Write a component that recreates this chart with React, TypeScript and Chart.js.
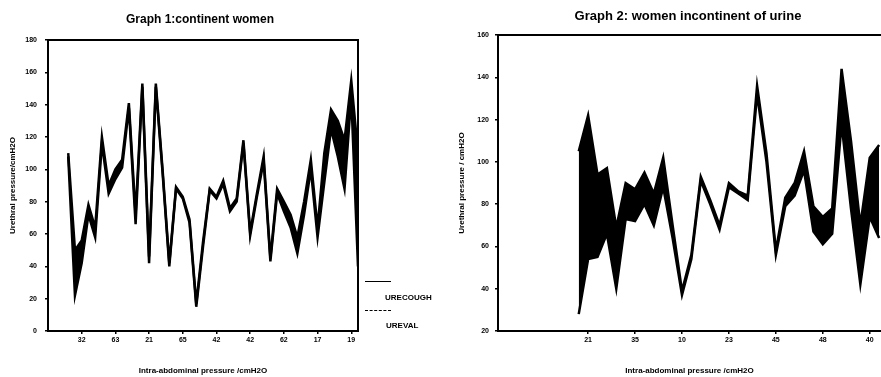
import React, { useEffect, useRef } from 'react';
import { Chart, registerables } from 'chart.js';

Chart.register(...registerables);

const FONT = '"Liberation Sans", Arial, Helvetica, sans-serif';

// ---------- Graph 1: continent women ----------
const g1TickPositions = [5, 10, 15, 20, 25, 30, 35, 40, 45];
const g1TickLabels = ['32', '63', '21', '65', '42', '42', '62', '17', '19'];
const g1UreCough: (number | null)[] = [
  null, null, null, 110, 50, 56, 78, 64, 120, 90,
  100, 106, 141, 72, 153, 46, 153, 100, 42, 89,
  83, 69, 17, 55, 88, 83, 93, 76, 82, 118,
  61, 85, 108, 45, 88, 80, 72, 58, 80, 106,
  64, 110, 137, 130, 118, 155, 110,
];
const g1UreVal: (number | null)[] = [
  null, null, null, 108, 22, 42, 72, 58, 116, 85,
  94, 101, 138, 66, 151, 42, 151, 98, 40, 88,
  82, 67, 15, 52, 87, 82, 91, 74, 80, 116,
  59, 83, 105, 43, 85, 74, 64, 48, 72, 100,
  58, 92, 125, 108, 88, 145, 40,
];

// ---------- Graph 2: women incontinent of urine ----------
const g2TickPositions = [10, 15, 20, 25, 30, 35, 40];
const g2TickLabels = ['21', '35', '10', '23', '45', '48', '40'];
const g2UreCough: (number | null)[] = [
  null, null, null, null, null, null, null, null, null, 105,
  122, 94, 97, 69, 90, 87, 95, 85, 102, 70,
  39, 56, 93, 82, 70, 90, 86, 84, 136, 104,
  58, 83, 90, 105, 79, 74, 78, 144, 110, 70,
  102, 108,
];
const g2UreVal: (number | null)[] = [
  null, null, null, null, null, null, null, null, null, 28,
  54, 55, 66, 40, 73, 72, 80, 70, 88, 64,
  37, 54, 91, 80, 68, 88, 85, 82, 132, 100,
  56, 79, 84, 96, 67, 61, 66, 118, 78, 42,
  74, 64,
];

const toPoints = (arr: (number | null)[]) =>
  arr
    .map((v, i) => (v === null ? null : { x: i, y: v }))
    .filter((p) => p !== null) as { x: number; y: number }[];

const framePlugin = {
  id: 'frame',
  afterDraw(chart: any, _args: any, opts: any) {
    const { ctx, chartArea: a } = chart;
    const sides: string[] = opts.sides || [];
    ctx.save();
    ctx.strokeStyle = '#000';
    ctx.lineWidth = 2;
    ctx.beginPath();
    if (sides.includes('top')) { ctx.moveTo(a.left - 1, a.top); ctx.lineTo(a.right + 1, a.top); }
    if (sides.includes('bottom')) { ctx.moveTo(a.left - 1, a.bottom); ctx.lineTo(a.right + 1, a.bottom); }
    if (sides.includes('left')) { ctx.moveTo(a.left, a.top); ctx.lineTo(a.left, a.bottom); }
    if (sides.includes('right')) { ctx.moveTo(a.right, a.top); ctx.lineTo(a.right, a.bottom); }
    ctx.stroke();
    ctx.restore();
  },
};

interface Cfg {
  upper: (number | null)[];
  lower: (number | null)[];
  tickPos: number[];
  tickLabels: string[];
  xMin: number;
  xMax: number;
  yMin: number;
  yMax: number;
  yAxisWidth: number;
  padTop: number;
  padRight: number;
  yTitle: string;
  yTitlePad: number;
  yTickPad: number;
  sides: string[];
}

function buildConfig(c: Cfg): any {
  const tickFont = { family: FONT, size: 7, weight: 'bold' as const };
  const titleFont = { family: FONT, size: 8, weight: 'bold' as const };
  return {
    type: 'line',
    data: {
      datasets: [
        {
          label: 'URECOUGH',
          data: toPoints(c.upper),
          borderColor: '#000',
          backgroundColor: '#000',
          borderWidth: 2.5,
          pointRadius: 0,
          tension: 0,
          fill: '+1',
        },
        {
          label: 'UREVAL',
          data: toPoints(c.lower),
          borderColor: '#000',
          backgroundColor: '#000',
          borderWidth: 2.5,
          pointRadius: 0,
          tension: 0,
          fill: false,
        },
      ],
    },
    options: {
      responsive: false,
      animation: false,
      events: [],
      layout: { padding: { top: c.padTop, right: c.padRight, left: 0, bottom: 0 } },
      plugins: {
        legend: { display: false },
        tooltip: { enabled: false },
        title: { display: false },
        frame: { sides: c.sides },
      },
      scales: {
        x: {
          type: 'linear',
          min: c.xMin,
          max: c.xMax,
          afterFit: (s: any) => { s.height = 46; },
          afterBuildTicks: (s: any) => { s.ticks = c.tickPos.map((v) => ({ value: v })); },
          border: { display: false },
          grid: { drawOnChartArea: false, drawTicks: true, tickLength: 3, color: '#000', lineWidth: 1.5 },
          ticks: {
            autoSkip: false,
            maxRotation: 0,
            padding: 2,
            color: '#000',
            font: tickFont,
            callback: (v: number) => {
              const k = c.tickPos.indexOf(v);
              return k >= 0 ? c.tickLabels[k] : '';
            },
          },
          title: {
            display: true,
            text: 'Intra-abdominal pressure /cmH2O',
            color: '#000',
            font: titleFont,
            padding: { top: 0, bottom: 1 },
          },
        },
        y: {
          type: 'linear',
          min: c.yMin,
          max: c.yMax,
          afterFit: (s: any) => { s.width = c.yAxisWidth; },
          border: { display: false },
          grid: { drawOnChartArea: false, drawTicks: true, tickLength: 3, color: '#000', lineWidth: 1.5 },
          ticks: {
            stepSize: 20,
            padding: c.yTickPad,
            color: '#000',
            font: tickFont,
          },
          title: {
            display: true,
            text: c.yTitle,
            color: '#000',
            font: titleFont,
            padding: { top: c.yTitlePad, bottom: 0 },
          },
        },
      },
    },
    plugins: [framePlugin],
  };
}

function ChartCanvas({ cfg, left, width }: { cfg: Cfg; left: number; width: number }) {
  const ref = useRef<HTMLCanvasElement | null>(null);
  useEffect(() => {
    if (!ref.current) return;
    const chart = new Chart(ref.current, buildConfig(cfg));
    return () => chart.destroy();
  }, []);
  return (
    <canvas
      ref={ref}
      width={width}
      height={377}
      style={{ position: 'absolute', left, top: 0, width, height: 377 }}
    />
  );
}

const g1Cfg: Cfg = {
  upper: g1UreCough,
  lower: g1UreVal,
  tickPos: g1TickPositions,
  tickLabels: g1TickLabels,
  xMin: 0,
  xMax: 46,
  yMin: 0,
  yMax: 180,
  yAxisWidth: 48,
  padTop: 40,
  padRight: 82,
  yTitle: 'Urethral pressure/cmH2O',
  yTitlePad: 8,
  yTickPad: 8,
  sides: ['top', 'right', 'bottom', 'left'],
};

const g2Cfg: Cfg = {
  upper: g2UreCough,
  lower: g2UreVal,
  tickPos: g2TickPositions,
  tickLabels: g2TickLabels,
  xMin: 0.4,
  xMax: 41.2,
  yMin: 20,
  yMax: 160,
  yAxisWidth: 58,
  padTop: 35,
  padRight: 0,
  yTitle: 'Urethral pressure / cmH2O',
  yTitlePad: 17,
  yTickPad: 6,
  sides: ['top', 'bottom', 'left'],
};

const titleStyle: React.CSSProperties = {
  position: 'absolute',
  fontFamily: FONT,
  fontWeight: 'bold',
  fontSize: 12,
  color: '#000',
  whiteSpace: 'nowrap',
  transform: 'translate(-50%, -50%)',
  lineHeight: '14px',
};

const legendText: React.CSSProperties = {
  position: 'absolute',
  fontFamily: FONT,
  fontWeight: 'bold',
  fontSize: 8,
  color: '#000',
  whiteSpace: 'nowrap',
  lineHeight: '10px',
};

export default function App() {
  return (
    <div
      style={{
        position: 'absolute',
        left: 0,
        top: 0,
        width: 881,
        height: 377,
        overflow: 'hidden',
        background: '#fff',
      }}
    >
      <ChartCanvas cfg={g1Cfg} left={0} width={440} />
      <ChartCanvas cfg={g2Cfg} left={440} width={441} />
      <div style={{ ...titleStyle, left: 200, top: 19 }}>Graph 1:continent women</div>
      <div style={{ ...titleStyle, left: 688, top: 16, fontSize: 13 }}>Graph 2: women incontinent of urine</div>
      <div style={{ position: 'absolute', left: 365, top: 281, width: 26, borderTop: '1.5px solid #000' }} />
      <div style={{ ...legendText, left: 385, top: 293 }}>URECOUGH</div>
      <div style={{ position: 'absolute', left: 365, top: 310, width: 26, borderTop: '1.5px dashed #000' }} />
      <div style={{ ...legendText, left: 386, top: 321 }}>UREVAL</div>
    </div>
  );
}
